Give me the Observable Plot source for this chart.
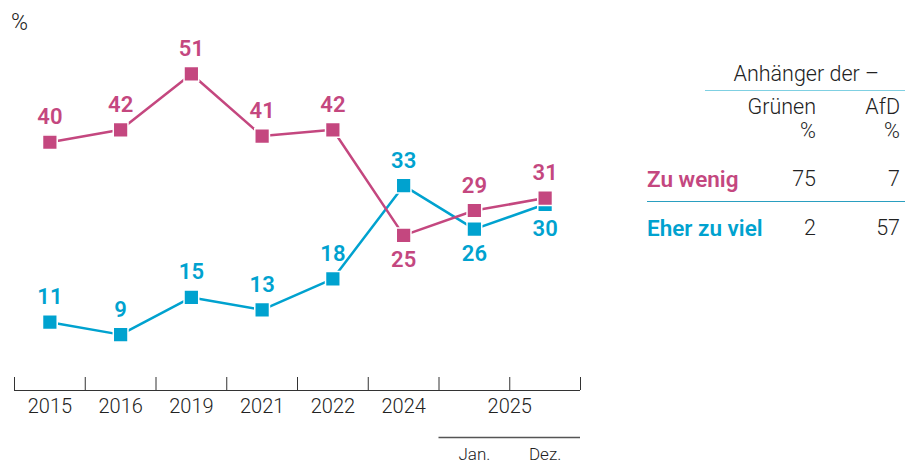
<!DOCTYPE html>
<html>
<head>
<meta charset="utf-8">
<script src="https://cdn.jsdelivr.net/npm/d3@7"></script>
<script src="https://cdn.jsdelivr.net/npm/@observablehq/plot@0.6"></script>
<style>
  html, body { margin: 0; padding: 0; background: #fff; }
  #wrap { position: relative; width: 905px; height: 464px; font-family: Roboto, "Noto Sans", sans-serif; color: #222; }
  #chart { position: absolute; left: 0; top: 0; }
  .t { position: absolute; font-size: 21.5px; font-weight: 300; line-height: 1; white-space: nowrap; }
  .r { text-align: right; }
  .hl { position: absolute; height: 0; }
</style>
</head>
<body>
<div id="wrap">
  <div id="chart"></div>
  <div class="t" style="left:11px; top:11px; font-size:23px;">%</div>
  <div id="table"></div>
</div>
<script>
// ---- data ----
const periods = ["2015", "2016", "2019", "2021", "2022", "2024", "2025 Jan.", "2025 Dez."];
const yearLabels = ["2015", "2016", "2019", "2021", "2022", "2024", "2025"];
const yearLabelPos = [0, 1, 2, 3, 4, 5, 6.5];
const monthLabels = ["Jan.", "Dez."];
const monthLabelPos = [6, 7];
const zuWenig = [40, 42, 51, 41, 42, 25, 29, 31];
const eherZuViel = [11, 9, 15, 13, 18, 33, 26, 30];
const seriesNames = ["Zu wenig", "Eher zu viel"];
const tableHeader = "Anhänger der –";
const tableCols = ["Grünen", "AfD"];
const tableZuWenig = [75, 7];
const tableEherZuViel = [2, 57];

const pink = "#c4477f";
const blue = "#00a2cf";

function rows(values, other, name) {
  return values.map((v, i) => ({
    i, v, name,
    below: v < other[i] && other[i] - v < 10
  }));
}
const pinkRows = rows(zuWenig, eherZuViel, seriesNames[0]);
const blueRows = rows(eherZuViel, zuWenig, seriesNames[1]);
const edges = d3.range(periods.length + 1).map(k => k - 0.5);

const labelFont = { fontSize: 22, fontWeight: 600, fontFamily: "Roboto, 'Noto Sans', sans-serif" };

const chart = Plot.plot({
  width: 905,
  height: 464,
  marginLeft: 14,
  marginRight: 325,
  marginTop: 17.6,
  marginBottom: 74,
  style: { fontFamily: "Roboto, 'Noto Sans', sans-serif", background: "transparent", overflow: "visible" },
  x: { domain: [-0.5, periods.length - 0.5], axis: null },
  y: { domain: [0, 60], axis: null },
  marks: [
    Plot.ruleY([0], { stroke: "#333", strokeWidth: 1 }),
    Plot.axisX({ ticks: edges, tickSize: -13, tickFormat: () => "", stroke: "#333", label: null }),
    Plot.text(yearLabels, { x: (d, k) => yearLabelPos[k], y: 0, dy: 16, text: d => d, fontSize: 20, fontWeight: 300, fill: "#222" }),
    Plot.ruleY([0], { x1: 5.5, x2: 7.5, dy: 47, stroke: "#555", strokeWidth: 1.5 }),
    Plot.text(monthLabels, { x: (d, k) => monthLabelPos[k], y: 0, dy: 64, text: d => d, fontSize: 17, fontWeight: 300, fill: "#222" }),
    Plot.line(blueRows, { x: "i", y: "v", stroke: blue, strokeWidth: 2.5 }),
    Plot.dot(blueRows, { x: "i", y: "v", symbol: "square", r: 8.3, fill: blue, stroke: "white", strokeWidth: 1.5 }),
    Plot.line(pinkRows, { x: "i", y: "v", stroke: pink, strokeWidth: 2.5 }),
    Plot.dot(pinkRows, { x: "i", y: "v", symbol: "square", r: 8.3, fill: pink, stroke: "white", strokeWidth: 1.5 }),
    Plot.text(pinkRows, { x: "i", y: "v", text: d => String(d.v), fill: pink, ...labelFont, filter: d => !d.below, dy: -25 }),
    Plot.text(pinkRows, { x: "i", y: "v", text: d => String(d.v), fill: pink, ...labelFont, filter: d => d.below, dy: 25 }),
    Plot.text(blueRows, { x: "i", y: "v", text: d => String(d.v), fill: blue, ...labelFont, filter: d => !d.below, dy: -25 }),
    Plot.text(blueRows, { x: "i", y: "v", text: d => String(d.v), fill: blue, ...labelFont, filter: d => d.below, dy: 25 })
  ]
});
document.getElementById("chart").appendChild(chart);

// ---- table ----
const tbl = document.getElementById("table");
function add(text, style, cls = "t") {
  const el = document.createElement("div");
  el.className = cls;
  el.textContent = text;
  el.setAttribute("style", style);
  tbl.appendChild(el);
  return el;
}
add(tableHeader, "right:26px; top:63px;");
add("", "left:705px; width:200px; top:90px; border-top:1.5px solid #7fd0e2;", "hl");
const colRight = [905 - 816, 905 - 900];
tableCols.forEach((c, k) => {
  add(c, `right:${colRight[k]}px; top:96px;`, "t r");
  add("%", `right:${colRight[k]}px; top:120px;`, "t r");
});
add(seriesNames[0], `left:647px; top:168px; color:${pink}; font-weight:600; font-size:22.5px;`);
tableZuWenig.forEach((v, k) => add(String(v), `right:${colRight[k]}px; top:168px;`, "t r"));
add("", "left:647px; width:258px; top:201px; border-top:1.5px solid #2a9fc0;", "hl");
add(seriesNames[1], `left:647px; top:217px; color:${blue}; font-weight:600; font-size:22.5px;`);
tableEherZuViel.forEach((v, k) => add(String(v), `right:${colRight[k]}px; top:217px;`, "t r"));
</script>
</body>
</html>
